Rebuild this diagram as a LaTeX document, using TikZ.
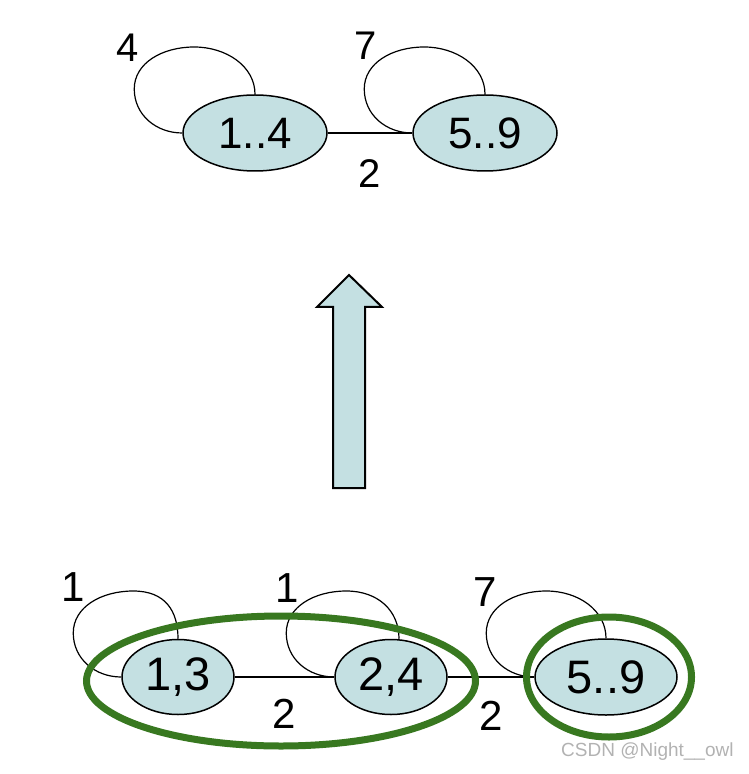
\documentclass[tikz,border=0pt]{standalone}
\usepackage{fontspec}
\setmainfont{Liberation Sans}
\usetikzlibrary{shapes.geometric,calc}

\definecolor{cellblue}{RGB}{196,224,226}
\definecolor{groupgreen}{RGB}{56,120,32}

\tikzset{
  state/.style={ellipse, draw=black, line width=0.75pt, fill=cellblue, inner sep=0pt},
  biglbl/.style={font=\fontsize{22}{26}\selectfont},
  lbl/.style={font=\fontsize{20}{24}\selectfont, inner sep=0pt},
  edge/.style={line width=0.6pt},
  loopline/.style={line width=0.6pt},
  group/.style={draw=groupgreen, line width=3.5pt},
}

% round self loop from the west point to the top of a state
\newcommand{\drawloop}[2][]{%
  \draw[loopline] (#2.west) .. controls +(-26,0) and +(0,26) .. ($(#2.west)+(-48,-44)$)
    .. controls +(0,-26) and +(-32,0) .. ($(#2.west)+(12,-86)$)
    .. controls +(32,0) and +(0,-28) .. ([#1]#2.north);}

\begin{document}
\begin{tikzpicture}[x=0.5pt, y=-0.5pt] % pixel grid, y pointing down

    \useasboundingbox (0,0) rectangle (748,774);

    % Merged graph (top)
    \node[state, biglbl, minimum width=72pt, minimum height=38pt] (top14) at (255,133) {1..4};
    \node[state, biglbl, minimum width=72pt, minimum height=38pt] (top59) at (485,133) {5..9};

    \draw[edge] (top14.east) -- node[lbl, midway, below=13pt] (wtop) {2} (top59.west);

    \drawloop{top14}
    \drawloop{top59}

    \node[lbl] (ltop14) at (128,48) {4};
    \node[lbl] (ltop59) at (366,46) {7};

    % Block arrow
    \draw[line width=1pt, fill=cellblue, line join=miter]
      (333,488) -- (333,307) -- (317,307) -- (349,275) -- (382,307) -- (365,307) -- (365,488) -- cycle;

    % Original graph (bottom)
    \begin{scope}[biglbl/.style={font=\fontsize{23.5}{28}\selectfont}]
    \node[state, biglbl, minimum width=56pt, minimum height=37.5pt] (b13) at (178,677) {1,3};
    \node[state, biglbl, minimum width=56pt, minimum height=37.5pt] (b24) at (391,677) {2,4};
    \node[state, biglbl, minimum width=71pt, minimum height=38pt] (b59) at (606,677) {5..9};
    \end{scope}

    \draw[edge] (b13.east) -- node[lbl, font=\fontsize{21}{25}\selectfont, midway, below=11pt] (w1) {2} (b24.west);
    \draw[edge] (b24.east) -- node[lbl, font=\fontsize{21}{25}\selectfont, midway, below=12pt] (w2) {2} (b59.west);

    \drawloop{b13}
    \drawloop[xshift=4pt]{b24}
    \drawloop{b59}

    \node[lbl, font=\fontsize{21}{25}\selectfont] (l13) at (73,587) {1};
    \node[lbl, font=\fontsize{21}{25}\selectfont] (l24) at (287,588) {1};
    \node[lbl, font=\fontsize{21}{25}\selectfont] (l59) at (485,592) {7};

    % Groups
    \draw[group] (281,681) ellipse [x radius=194.5, y radius=65];
    \draw[group] (609,677) ellipse [x radius=82.5, y radius=60];

    % Watermark
    \node[text=black!30, font=\fontsize{9.5}{11}\selectfont, anchor=east, inner sep=0pt] (mark) at (734,752) {CSDN @Night\_\_owl};

\end{tikzpicture}
\end{document}
